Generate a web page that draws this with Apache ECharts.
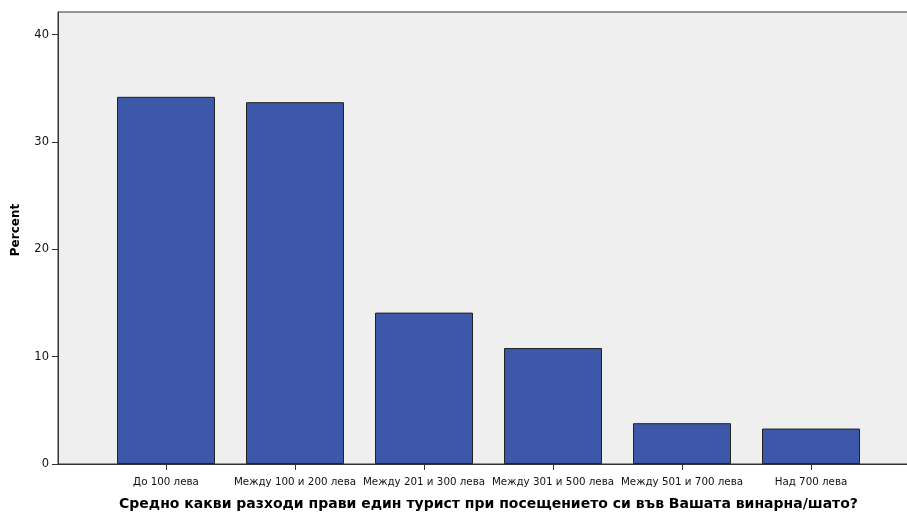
<!DOCTYPE html>
<html><head><meta charset="utf-8">
<script src="https://cdn.jsdelivr.net/npm/echarts@6/dist/echarts.min.js"></script>
<style>html,body{margin:0;padding:0;background:#fff}#c{width:907px;height:514px}</style>
</head><body><div id="c"></div>
<script>
const categories = ['До 100 лева','Между 100 и 200 лева','Между 201 и 300 лева','Между 301 и 500 лева','Между 501 и 700 лева','Над 700 лева'];
const percents = [34.2, 33.7, 14.1, 10.8, 3.8, 3.3];
const yTicks = [0, 10, 20, 30, 40];
const xTitle = 'Средно какви разходи прави един турист при посещението си във Вашата винарна/шато?';
const yTitle = 'Percent';

const font = '"DejaVu Sans", Arial, sans-serif';
const chart = echarts.init(document.getElementById('c'), null, {renderer:'canvas'});
chart.setOption({
  animation: false,
  backgroundColor: '#fff',
  grid: [
    {left: 58, right: -2, top: 12, bottom: 50, containLabel: false, outerBoundsMode: 'none', show: true, backgroundColor: '#EFEFEF', borderColor: '#333', borderWidth: 1},
    {left: 101.5, right: 31.5, top: 12, bottom: 50, containLabel: false, outerBoundsMode: 'none'}
  ],
  graphic: [{
    type: 'text', x: 16, y: 230, rotation: Math.PI / 2,
    style: {text: yTitle, fill: '#000', font: 'bold 12px ' + font, textAlign: 'center', textVerticalAlign: 'middle'}
  }],
  xAxis: [
    {gridIndex: 0, type: 'value', min: 0, max: 1, axisLine: {show: true, lineStyle: {color: '#333', width: 1}}, axisTick: {show: false}, axisLabel: {show: false}, splitLine: {show: false}},
    {gridIndex: 1, type: 'category', data: categories,
     axisLine: {show: false}, axisTick: {show: true, alignWithLabel: true, length: 6, lineStyle: {color: '#333'}},
     axisLabel: {color: '#111', fontSize: 10.3, fontFamily: font, margin: 13, interval: 0},
     name: xTitle, nameLocation: 'middle', nameGap: 33,
     nameTextStyle: {color: '#000', fontSize: 14, fontWeight: 'bold', fontFamily: font}}
  ],
  yAxis: [
    {gridIndex: 0, type: 'value', min: 0, max: 42.1, interval: 10,
     axisLine: {show: true, lineStyle: {color: '#333', width: 1}},
     axisTick: {show: true, length: 6, lineStyle: {color: '#333'}},
     axisLabel: {color: '#111', fontSize: 11.5, fontFamily: font, margin: 9, showMaxLabel: false,
       formatter: v => yTicks.includes(v) ? String(v) : ''},
     splitLine: {show: false}},
    {gridIndex: 1, type: 'value', min: 0, max: 42.1, show: false, splitLine: {show: false}}
  ],
  series: [{
    type: 'bar', xAxisIndex: 1, yAxisIndex: 1, data: percents, barWidth: 98,
    itemStyle: {color: '#3D58A9', borderColor: '#222', borderWidth: 1}
  }]
});
</script></body></html>
